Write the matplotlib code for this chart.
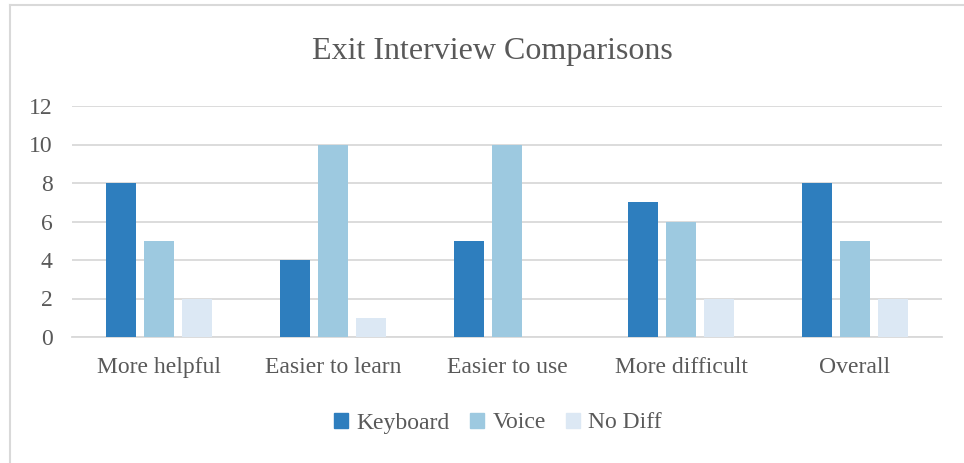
import matplotlib
matplotlib.use("Agg")
import matplotlib.pyplot as plt
import numpy as np
from matplotlib.lines import Line2D

categories = ["More helpful", "Easier to learn", "Easier to use", "More difficult", "Overall"]
series_names = ["Keyboard", "Voice", "No Diff"]
keyboard = [8, 4, 5, 7, 8]
voice = [5, 10, 10, 6, 5]
no_diff = [2, 1, 0, 2, 2]
y_ticks = [0, 2, 4, 6, 8, 10, 12]

colors = ["#2E7EBE", "#9DC9E0", "#DCE8F4"]
text_color = "#595959"
grid_color = "#D9D9D9"

plt.rcParams['font.family'] = ['Liberation Serif', 'DejaVu Serif']

fig = plt.figure(figsize=(9.64, 4.63), dpi=100)
W, H = 964, 463
ax = fig.add_axes([72 / W, 1 - 337 / H, (942 - 72) / W, (337 - 106) / H])

x = np.arange(len(categories))
bw = 0.178
offs = 38 / 174
for i, (vals, name) in enumerate(zip([keyboard, voice, no_diff], series_names)):
    ax.bar(x + (i - 1) * offs, vals, width=bw, color=colors[i], label=name, zorder=3)

ax.set_xlim(-0.5, len(categories) - 0.5)
ax.set_ylim(0, 12)
ax.set_yticks(y_ticks)
ax.set_yticklabels([str(v) for v in y_ticks])
ax.set_xticks(x)
ax.set_xticklabels(categories)
ax.tick_params(axis='both', length=0, colors=text_color, labelsize=17)
ax.tick_params(axis='y', pad=14)
ax.tick_params(axis='x', pad=14.5)
ax.grid(axis='y', color=grid_color, linewidth=1.3, zorder=0)
for s in ['top', 'right', 'left']:
    ax.spines[s].set_visible(False)
ax.spines['bottom'].set_color(grid_color)
ax.spines['bottom'].set_linewidth(1.3)

fig.text(0.5 * (313 + 672) / W, 1 - 52 / H, "Exit Interview Comparisons",
         ha='center', va='center', fontsize=23, color=text_color)

handles = [plt.Rectangle((0, 0), 1, 1, color=c) for c in colors]
fig.legend(handles, series_names, loc='center', bbox_to_anchor=(498 / W, 1 - 423 / H),
           ncol=3, frameon=False, fontsize=17, labelcolor=text_color,
           handlelength=0.6, handleheight=0.6, handletextpad=0.35, columnspacing=0.85)

# chart border
fig.add_artist(Line2D([10 / W, 10 / W], [0, 1 - 5 / H], color=grid_color, linewidth=1.5, transform=fig.transFigure))
fig.add_artist(Line2D([10 / W, 1], [1 - 5 / H, 1 - 5 / H], color=grid_color, linewidth=1.5, transform=fig.transFigure))

fig.savefig("out.png", dpi=100)
